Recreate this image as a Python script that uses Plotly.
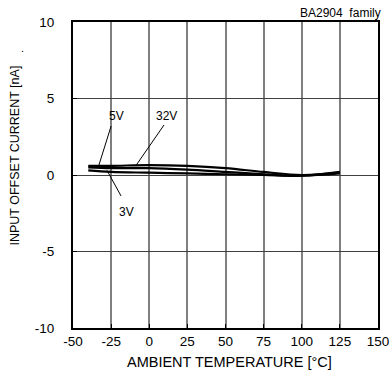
import plotly.graph_objects as go

# ambient temperature [degC] and input offset current [nA] per supply voltage
temps = [-40, -25, 0, 25, 50, 75, 100, 125]
iio_5v = [0.6, 0.6, 0.65, 0.6, 0.45, 0.2, 0.0, 0.15]
iio_32v = [0.5, 0.45, 0.45, 0.35, 0.2, 0.05, -0.05, 0.2]
iio_3v = [0.3, 0.2, 0.15, 0.1, 0.05, 0.0, -0.05, 0.1]

x_ticks = [-50, -25, 0, 25, 50, 75, 100, 125, 150]
y_ticks = [-10, -5, 0, 5, 10]

FONT = "Liberation Sans, Arial, sans-serif"

fig = go.Figure()
for name, ys in [("5V", iio_5v), ("32V", iio_32v), ("3V", iio_3v)]:
    fig.add_trace(go.Scatter(
        x=temps, y=ys, mode="lines", name=name,
        line=dict(color="black", width=2.2, shape="spline", smoothing=1.0),
        showlegend=False
    ))

# labels with leader lines
labels = [
    ("5V", -21.8, 3.86, (-25, 3.2), (-33, 0.65)),
    ("32V", 11.6, 3.86, (9.7, 3.27), (-8.7, 0.62)),
    ("3V", -15.2, -2.4, (-18.5, -1.37), (-27.7, 0.3)),
]
for txt, tx, ty, p0, p1 in labels:
    fig.add_annotation(x=tx, y=ty, text=txt, showarrow=False,
                       font=dict(family=FONT, size=12, color="black"))
    fig.add_shape(type="line", x0=p0[0], y0=p0[1], x1=p1[0], y1=p1[1],
                  line=dict(color="black", width=1))

fig.add_annotation(x=1.015, y=1.0, xref="paper", yref="paper",
                   xanchor="right", yanchor="bottom", yshift=0,
                   text="BA2904  family", showarrow=False,
                   font=dict(family=FONT, size=12, color="black"))
fig.add_annotation(x=-0.164, y=0.915, xref="paper", yref="paper", text=".",
                   xanchor="center", yanchor="middle",
                   showarrow=False, font=dict(family=FONT, size=11, color="black"))

# axis titles
fig.add_annotation(x=0.513, y=-0.111, xref="paper", yref="paper",
                   xanchor="center", yanchor="middle",
                   text="AMBIENT TEMPERATURE [°C]", showarrow=False,
                   font=dict(family=FONT, size=14.5, color="black"))
fig.add_annotation(x=-0.1885, y=0.562, xref="paper", yref="paper",
                   xanchor="center", yanchor="middle",
                   text="INPUT OFFSET CURRENT [nA]", showarrow=False, textangle=-90,
                   font=dict(family=FONT, size=12.5, color="black"))

fig.update_xaxes(
    range=[-50, 150], tickvals=x_ticks, ticktext=[str(v) for v in x_ticks],
    showgrid=True, gridcolor="#7f7f7f", gridwidth=1.5,
    showline=True, linecolor="black", linewidth=2, mirror=True,
    ticks="inside", ticklen=4, tickcolor="black", tickwidth=1,
    zeroline=False, automargin=False,
    tickfont=dict(family=FONT, size=13.5, color="black")
)
fig.update_yaxes(
    range=[-10, 10], tickvals=y_ticks, ticktext=[str(v) for v in y_ticks],
    showgrid=True, gridcolor="#404040", gridwidth=1,
    showline=True, linecolor="black", linewidth=2, mirror=True,
    ticks="inside", ticklen=4, tickcolor="black", tickwidth=1,
    zeroline=False, automargin=False, ticklabelstandoff=14,
    tickfont=dict(family=FONT, size=13.5, color="black")
)

fig.update_layout(
    width=391, height=384,
    margin=dict(l=73, r=13, t=22, b=56),
    paper_bgcolor="white", plot_bgcolor="white",
    font=dict(family=FONT, color="black")
)

# drop the default body margin so the figure sits at the window's corner
fig.write_html("out.html", config={"displayModeBar": False},
               post_script="document.body.style.margin='0';")
